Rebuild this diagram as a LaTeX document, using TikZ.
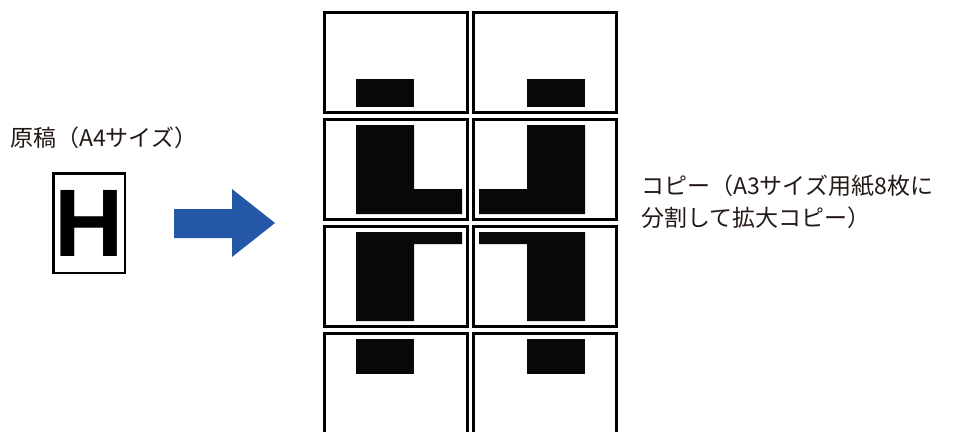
\documentclass[tikz,border=0pt]{standalone}
\usepackage{fontspec}
\setmainfont{Noto Sans CJK JP}
\newfontfamily\hfont{Liberation Sans}
\usepackage{xcolor}
\definecolor{arrowBlue}{RGB}{36,87,166}
\definecolor{textInk}{RGB}{35,24,21}
\usepackage{tikz}
\usetikzlibrary{positioning,calc}
\tikzstyle{panel}=[draw=black, line width=3pt, minimum width=143pt, minimum height=100pt, inner sep=0pt]
\tikzstyle{caption}=[text=textInk, inner sep=0pt, font=\fontsize{23}{32}\selectfont]
\tikzstyle{ink}=[fill=black!97]

\begin{document}
\begin{tikzpicture}[x=1pt, y=-1pt]
        \useasboundingbox (0,0) rectangle (965,431);

        % original sheet
        \node[caption, anchor=west] (origLabel) at (10,138) {原稿（A4サイズ）};
        \node[draw=black, line width=2.5pt, minimum width=71.5pt, minimum height=99.5pt,
              inner sep=0pt, font=\hfont\bfseries\fontsize{96}{96}\selectfont]
          (orig) at (89,223) {H};

        % blue arrow
        \fill[arrowBlue] (174,209) -- (232,209) -- (232,189) -- (275,223)
          -- (232,257) -- (232,238) -- (174,238) -- cycle;

        % copy sheets, 2 columns x 4 rows
        \foreach \r/\y in {1/62.5, 2/169.5, 3/276.5, 4/383.5} {
          \node[panel] (p\r a) at (396,\y) {};
          \node[panel] (p\r b) at (545,\y) {};
        }

        % enlarged parts of the letter
        \fill[ink] (356,79) rectangle (414,107);
        \fill[ink] (527,79) rectangle (585,107);
        \fill[ink] (356,125) -- (414,125) -- (414,189) -- (462,189) -- (462,214) -- (356,214) -- cycle;
        \fill[ink] (527,125) -- (585,125) -- (585,214) -- (479,214) -- (479,189) -- (527,189) -- cycle;
        \fill[ink] (356,232) -- (462,232) -- (462,244) -- (414,244) -- (414,321) -- (356,321) -- cycle;
        \fill[ink] (479,232) -- (585,232) -- (585,321) -- (527,321) -- (527,244) -- (479,244) -- cycle;
        \fill[ink] (356,339) rectangle (414,374);
        \fill[ink] (527,339) rectangle (585,374);

        \node[caption, anchor=north west, align=left] (copyLabel) at (641,175)
          {コピー（A3サイズ用紙8枚に\\分割して拡大コピー）};
      \end{tikzpicture}
\end{document}
